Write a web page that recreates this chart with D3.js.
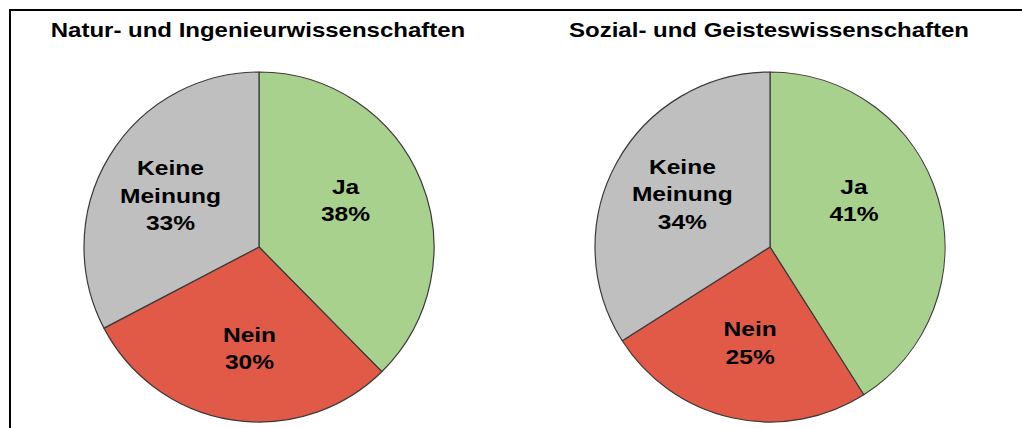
<!DOCTYPE html>
<html><head><meta charset="utf-8">
<script src="https://cdn.jsdelivr.net/npm/d3@7"></script>
<style>
html,body{margin:0;padding:0;background:#fff;}
svg{display:block;}
text{font-family:"Liberation Sans",Arial,sans-serif;font-weight:bold;fill:#000;}
</style></head>
<body>
<svg id="chart" width="1022" height="428"></svg>
<script>
// ---- data ----
const titles = ["Natur- und Ingenieurwissenschaften", "Sozial- und Geisteswissenschaften"];
const categories = ["Ja", "Nein", "Keine Meinung"];
const valuesNatur = [38, 30, 33];
const valuesSozial = [41, 25, 34];
const colors = ["#a9d18e", "#e05a47", "#bfbfbf"];

// ---- layout (not data) ----
const W = 1022, H = 428;
const centersX = [259, 770];
const centerY = 247;
const R = 175;
const labelR = 100;
// small label nudges per slice, per chart
const labelNudges = [
  [[-6, -9], [6, 2], [-3, 0]],
  [[-12, -19], [2, -2], [0, -5]]
];

const svg = d3.select("#chart");

// frame: left and top border
svg.append("line").attr("x1", 10).attr("y1", 10).attr("x2", 10).attr("y2", H)
  .attr("stroke", "#000").attr("stroke-width", 2);
svg.append("line").attr("x1", 9).attr("y1", 10).attr("x2", W).attr("y2", 10)
  .attr("stroke", "#000").attr("stroke-width", 2);

const pie = d3.pie().sort(null).value(d => d.value);
const arc = d3.arc().innerRadius(0).outerRadius(R);
const labelArc = d3.arc().innerRadius(labelR).outerRadius(labelR);

const sets = [valuesNatur, valuesSozial];

sets.forEach((vals, ci) => {
  const data = categories.map((c, i) => ({ cat: c, value: vals[i], color: colors[i], idx: i }));
  const g = svg.append("g").attr("transform", `translate(${centersX[ci]},${centerY})`);

  // title
  g.append("text")
    .attr("transform", `translate(-1,${37 - centerY}) scale(1.2,1)`)
    .attr("text-anchor", "middle")
    .style("font-size", "20px")
    .text(titles[ci]);

  const arcs = pie(data);
  g.selectAll("path.slice").data(arcs).join("path")
    .attr("class", "slice")
    .attr("d", arc)
    .attr("fill", d => d.data.color)
    .attr("stroke", "#3a3a3a")
    .attr("stroke-width", 1.2)
    .attr("stroke-linejoin", "round");

  const total = d3.sum(vals);
  arcs.forEach(a => {
    const [cx, cy] = labelArc.centroid(a);
    const nudge = labelNudges[ci][a.data.idx];
    const lines = a.data.cat.split(" ");
    lines.push(a.data.value + "%");
    const lh = 27.5, cap = 15;
    const x = cx + nudge[0], y = cy + nudge[1];
    lines.forEach((ln, li) => {
      const by = y + (li - (lines.length - 1) / 2) * lh + cap / 2;
      g.append("text")
        .attr("transform", `translate(${x},${by}) scale(1.17,1)`)
        .attr("text-anchor", "middle")
        .style("font-size", "21px")
        .text(ln);
    });
  });
});
</script>
</body></html>
